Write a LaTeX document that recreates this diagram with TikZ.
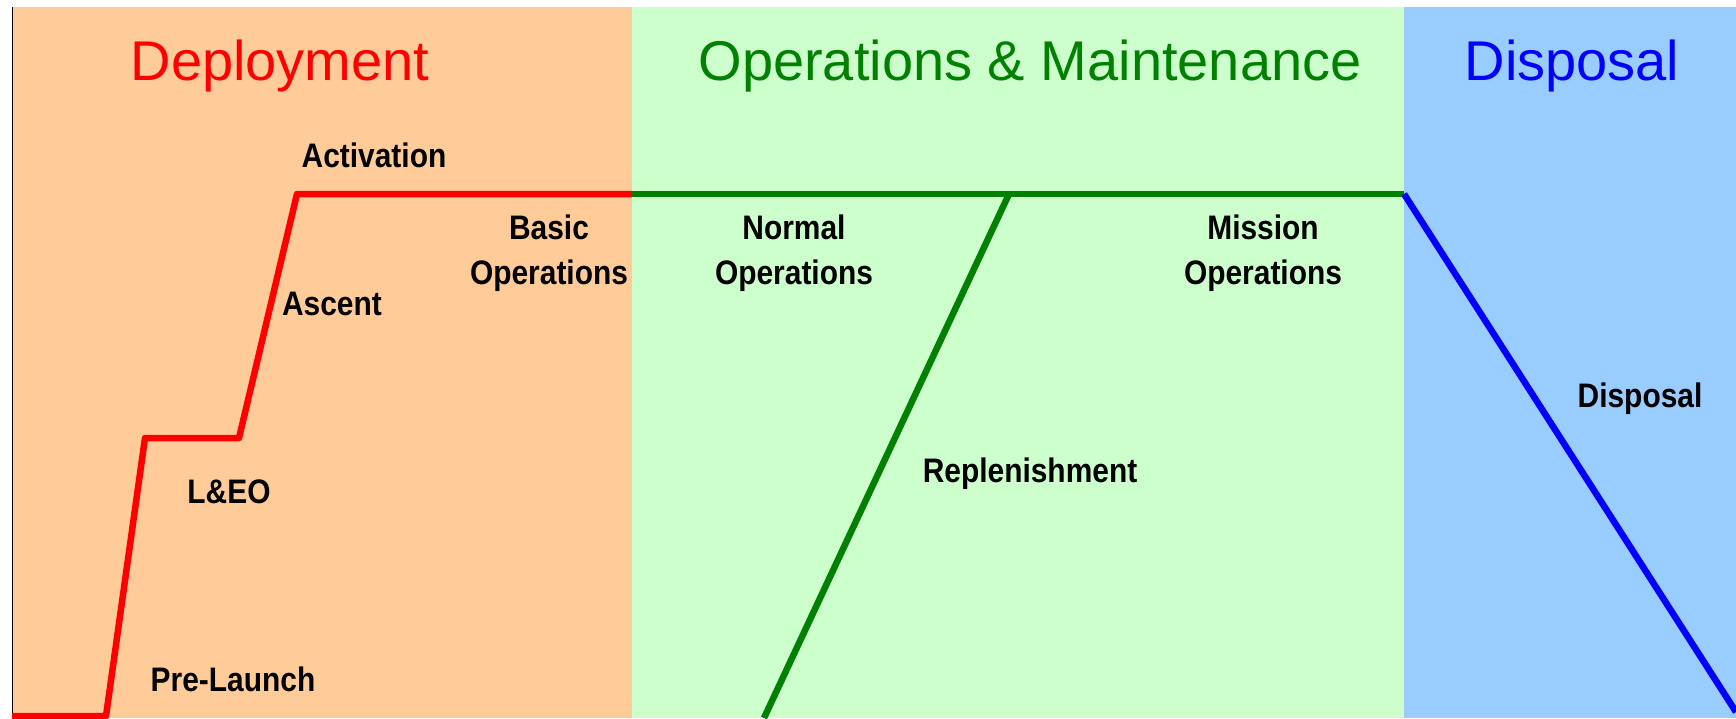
\documentclass[tikz,border=0pt]{standalone}
\usepackage{fontspec}
\setmainfont{Liberation Sans}
\newfontfamily\steplabelfont{Liberation Sans Bold}[FakeStretch=0.88]
\definecolor{deplfill}{HTML}{FFCC99}
\definecolor{opsfill}{HTML}{CCFFCC}
\definecolor{dispfill}{HTML}{99CCFF}
\definecolor{opsgreen}{HTML}{008000}
\begin{document}
\begin{tikzpicture}[x=1pt,y=-1pt,
  title/.style={font=\fontsize{56}{60}\selectfont, inner sep=0pt},
  phase/.style={font=\steplabelfont\fontsize{34}{45}\selectfont, align=center, inner sep=0pt},
  track/.style={line width=6.5pt, line join=round}]
  \useasboundingbox (0,0) rectangle (1736,718);
  % phase backgrounds
  \fill[white] (0,0) rectangle (1736,718);
  \fill[deplfill] (12,7) rectangle (632,718);
  \fill[opsfill] (632,7) rectangle (1404,718);
  \fill[dispfill] (1404,7) rectangle (1736,718);
  \draw[black, line width=0.8pt] (12,7) -- (12,718);

  % phase titles
  \node[title, text=red] (tdep) at (280,66) {Deployment};
  \node[title, text=opsgreen] (tops) at (1030,66) {Operations \& Maintenance};
  \node[title, text=blue] (tdis) at (1572,66) {Disposal};

  % track corners
  \coordinate (p0) at (12,716);
  \coordinate (p1) at (106,716);
  \coordinate (p2) at (145,438);
  \coordinate (p3) at (239,438);
  \coordinate (p4) at (297,194);
  \coordinate (p5) at (632,194);
  \coordinate (p6) at (1404,194);
  \coordinate (r0) at (1009,194);
  \coordinate (r1) at (764,718);
  \coordinate (d1) at (1736,712);

  \draw[track, red] (p0) -- (p1) -- (p2) -- (p3) -- (p4) -- (p5);
  \draw[track, opsgreen] (p5) -- (p6);
  \draw[track, opsgreen] (r0) -- (r1);
  \draw[track, blue] (p6) -- (d1);

  % step labels
  \node[phase] (lact) at (374,155) {Activation};
  \node[phase] (lbas) at (549,253) {Basic\\Operations};
  \node[phase] (lasc) at (332,304) {Ascent};
  \node[phase] (lleo) at (229,492) {L\&EO};
  \node[phase] (lpre) at (233,679) {Pre-Launch};
  \node[phase] (lnor) at (794,253) {Normal\\Operations};
  \node[phase] (lmis) at (1263,253) {Mission\\Operations};
  \node[phase] (lrep) at (1030,474) {Replenishment};
  \node[phase] (ldis) at (1640,399) {Disposal};
\end{tikzpicture}
\end{document}
